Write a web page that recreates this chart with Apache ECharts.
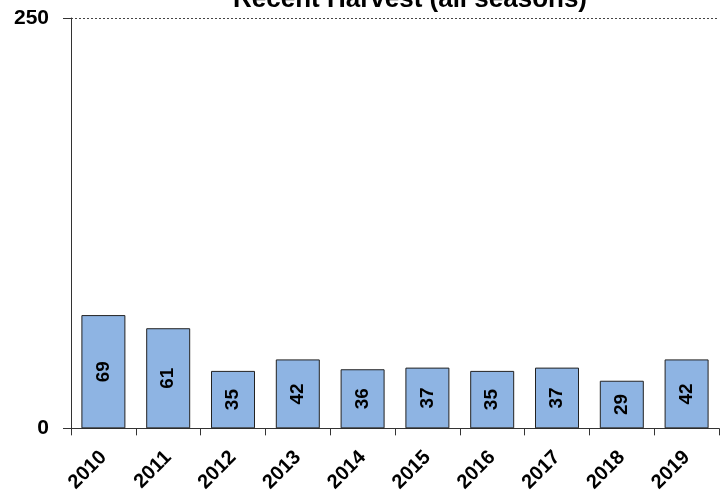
<!DOCTYPE html>
<html><head><meta charset="utf-8">
<script src="https://cdn.jsdelivr.net/npm/echarts@6/dist/echarts.min.js"></script>
<style>html,body{margin:0;padding:0;background:#fff}#c{width:728px;height:495px}</style>
</head><body><div id="c"></div>
<script>
const titleText = 'Recent Harvest (all seasons)';
const years = ['2010','2011','2012','2013','2014','2015','2016','2017','2018','2019'];
const harvest = [69, 61, 35, 42, 36, 37, 35, 37, 29, 42];
const yMin = 0, yMax = 250, yStep = 250;

const chart = echarts.init(document.getElementById('c'), null, {renderer:'canvas'});
const F = 'Liberation Sans, Arial, sans-serif';
chart.setOption({
  animation: false,
  backgroundColor: '#fff',
  title: {
    text: titleText, left: 405, textAlign: 'center', top: -18,
    textStyle: {fontFamily: F, fontWeight: 'bold', fontSize: 26, color: '#000'}
  },
  grid: {left: 71, right: 9, top: 18, bottom: 66, containLabel: false},
  xAxis: {
    type: 'category', data: years,
    axisLine: {show: true, lineStyle: {color: '#333', width: 1}},
    axisTick: {show: true, alignWithLabel: false, length: 7, lineStyle: {color: '#333'}},
    axisLabel: {rotate: 45, fontFamily: F, fontWeight: 'bold', fontSize: 20, color: '#000', margin: 26, interval: 0}
  },
  yAxis: {
    type: 'value', min: yMin, max: yMax, interval: yStep,
    axisLine: {show: true, lineStyle: {color: '#333', width: 1}},
    axisTick: {show: true, inside: false, length: 8, lineStyle: {color: '#333'}},
    splitLine: {show: true, lineStyle: {color: '#444', type: [2, 2], width: 1}},
    axisLabel: {fontFamily: F, fontWeight: 'bold', fontSize: 21, color: '#000', margin: 22}
  },
  series: [{
    type: 'bar', data: harvest, barWidth: 44,
    itemStyle: {color: '#8EB4E3', borderColor: '#222', borderWidth: 1},
    label: {show: true, position: 'inside', rotate: 90, fontFamily: F, fontWeight: 'bold', fontSize: 19, color: '#000'}
  }]
});
</script></body></html>
